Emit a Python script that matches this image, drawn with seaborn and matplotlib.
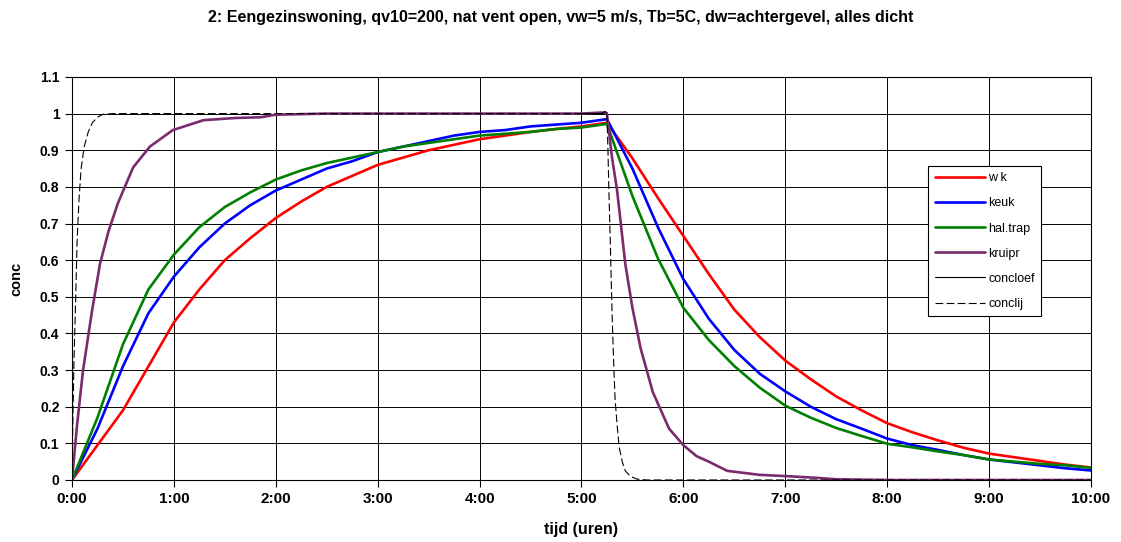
import matplotlib
matplotlib.use("Agg")
import matplotlib.pyplot as plt
import seaborn as sns

# tijd in uren, kwartierwaarden voor de kamers
t_kwartier = [0.0, 0.25, 0.5, 0.75, 1.0, 1.25, 1.5, 1.75, 2.0, 2.25, 2.5, 2.75,
              3.0, 3.25, 3.5, 3.75, 4.0, 4.25, 4.5, 4.75, 5.0, 5.25,
              5.5, 5.75, 6.0, 6.25, 6.5, 6.75, 7.0, 7.25, 7.5, 7.75,
              8.0, 8.25, 8.5, 8.75, 9.0, 9.25, 9.5, 9.75, 10.0]

wk = [0.0, 0.095, 0.19, 0.31, 0.43, 0.52, 0.60, 0.66, 0.715, 0.76, 0.80, 0.83,
      0.86, 0.88, 0.90, 0.915, 0.93, 0.94, 0.95, 0.958, 0.965, 0.975,
      0.878, 0.77, 0.666, 0.562, 0.465, 0.39, 0.326, 0.275, 0.228, 0.19,
      0.155, 0.13, 0.108, 0.088, 0.072, 0.062, 0.052, 0.042, 0.034]

keuk = [0.0, 0.14, 0.31, 0.455, 0.555, 0.635, 0.70, 0.75, 0.79, 0.82, 0.85, 0.87,
        0.895, 0.91, 0.925, 0.94, 0.95, 0.955, 0.965, 0.97, 0.975, 0.985,
        0.85, 0.69, 0.548, 0.44, 0.355, 0.29, 0.242, 0.20, 0.166, 0.14,
        0.113, 0.095, 0.082, 0.068, 0.056, 0.048, 0.040, 0.032, 0.026]

haltrap = [0.0, 0.17, 0.37, 0.52, 0.615, 0.69, 0.745, 0.785, 0.82, 0.845, 0.865, 0.88,
           0.895, 0.91, 0.92, 0.93, 0.94, 0.945, 0.95, 0.958, 0.962, 0.972,
           0.775, 0.605, 0.47, 0.382, 0.311, 0.252, 0.203, 0.17, 0.142, 0.12,
           0.099, 0.089, 0.078, 0.068, 0.056, 0.05, 0.044, 0.04, 0.033]

# kruipruimte reageert sneller, fijnere tijdstappen
t_kruipr = [0.0, 0.05, 0.108, 0.196, 0.275, 0.36, 0.45, 0.6, 0.765, 0.99, 1.29, 1.6,
            1.85, 2.0, 2.5, 3.0, 4.0, 5.0, 5.2, 5.25,
            5.3, 5.35, 5.43, 5.5, 5.58, 5.7, 5.86, 6.0, 6.13, 6.25, 6.43,
            6.75, 7.05, 7.3, 7.5, 8.0, 9.0, 10.0]
kruipr = [0.0, 0.15, 0.298, 0.46, 0.59, 0.68, 0.755, 0.853, 0.91, 0.955, 0.982, 0.988,
          0.99, 0.997, 1.0, 1.0, 1.0, 1.0, 1.003, 1.0,
          0.88, 0.79, 0.59, 0.47, 0.36, 0.24, 0.14, 0.095, 0.065, 0.05, 0.025,
          0.014, 0.01, 0.006, 0.002, 0.0, 0.0, 0.0]

t_concloef = [5.0, 5.19, 5.23, 5.25]
concloef = [1.0, 1.0, 1.006, 1.003]

t_conclij = [0.0, 0.01, 0.02, 0.035, 0.05, 0.07, 0.09, 0.12, 0.16, 0.2, 0.25, 0.3, 0.4,
             1.0, 3.0, 5.25, 5.26, 5.27, 5.28, 5.29, 5.30, 5.31, 5.32, 5.33,
             5.35, 5.37, 5.40, 5.43, 5.48, 5.55, 5.65, 7.0, 10.0]
conclij = [0.0, 0.18, 0.33, 0.48, 0.65, 0.77, 0.85, 0.91, 0.95, 0.975, 0.99, 0.998, 1.0,
           1.0, 1.0, 1.0, 0.9, 0.78, 0.68, 0.57, 0.46, 0.37, 0.29, 0.22,
           0.15, 0.09, 0.05, 0.025, 0.01, 0.002, 0.0, 0.0, 0.0]

uur_labels = [f"{h}:00" for h in range(11)]

sns.set_style("white")
plt.rcParams['font.family'] = ['Liberation Sans', 'DejaVu Sans']
plt.rcParams.update({"text.color": "black", "axes.labelcolor": "black",
                     "xtick.color": "black", "ytick.color": "black"})

fig = plt.figure(figsize=(11.21, 5.42), dpi=100)
ax = fig.add_axes([0.0642, 0.1144, 0.909, 0.7436])

sns.lineplot(x=t_kwartier, y=wk, ax=ax, color="#ff0000", linewidth=1.9, label="w k")
sns.lineplot(x=t_kwartier, y=keuk, ax=ax, color="#0000ff", linewidth=1.9, label="keuk")
sns.lineplot(x=t_kwartier, y=haltrap, ax=ax, color="#008000", linewidth=1.9, label="hal.trap")
sns.lineplot(x=t_kruipr, y=kruipr, ax=ax, color="#7b2a6e", linewidth=1.9, label="kruipr")
sns.lineplot(x=t_concloef, y=concloef, ax=ax, color="black", linewidth=0.8, label="concloef")
sns.lineplot(x=t_conclij, y=conclij, ax=ax, color="black", linewidth=0.8,
             linestyle=(0, (7, 3)), label="conclij")

ax.set_xlim(0, 10)
ax.set_ylim(0, 1.1)
ax.set_xticks(range(11))
ax.set_xticklabels(uur_labels)
ax.set_yticks([i / 10 for i in range(12)])
ax.set_yticklabels(["0", "0.1", "0.2", "0.3", "0.4", "0.5", "0.6", "0.7", "0.8",
                    "0.9", "1", "1.1"])
ax.grid(True, color="black", linewidth=0.7)
ax.set_axisbelow(True)
for s in ax.spines.values():
    s.set_color("black")
    s.set_linewidth(0.8)
ax.tick_params(axis="both", direction="out", length=5, width=0.8, color="black",
               labelcolor="black", labelsize=10, pad=4, bottom=True, left=True)
ax.tick_params(axis="x", labelsize=11)
for lab in ax.get_xticklabels() + ax.get_yticklabels():
    lab.set_fontweight("bold")

ax.set_xlabel("tijd (uren)", fontsize=11.5, fontweight="bold", labelpad=11, color="black")
ax.set_ylabel("conc", fontsize=10.5, fontweight="bold", labelpad=12, color="black")
fig.suptitle("2: Eengezinswoning, qv10=200, nat vent open, vw=5 m/s, Tb=5C, dw=achtergevel, alles dicht",
             x=0.5, y=0.982, fontsize=11.5, fontweight="bold", color="black")

leg = ax.legend(loc="upper right", bbox_to_anchor=(0.951, 0.779), fontsize=9,
                handlelength=4.0, labelspacing=1.05, handletextpad=0.3,
                borderpad=0.5, borderaxespad=0, fancybox=False, framealpha=1,
                edgecolor="black")
leg.get_frame().set_linewidth(0.8)
for txt in leg.get_texts():
    txt.set_color("black")

fig.savefig("out.png", dpi=100)
